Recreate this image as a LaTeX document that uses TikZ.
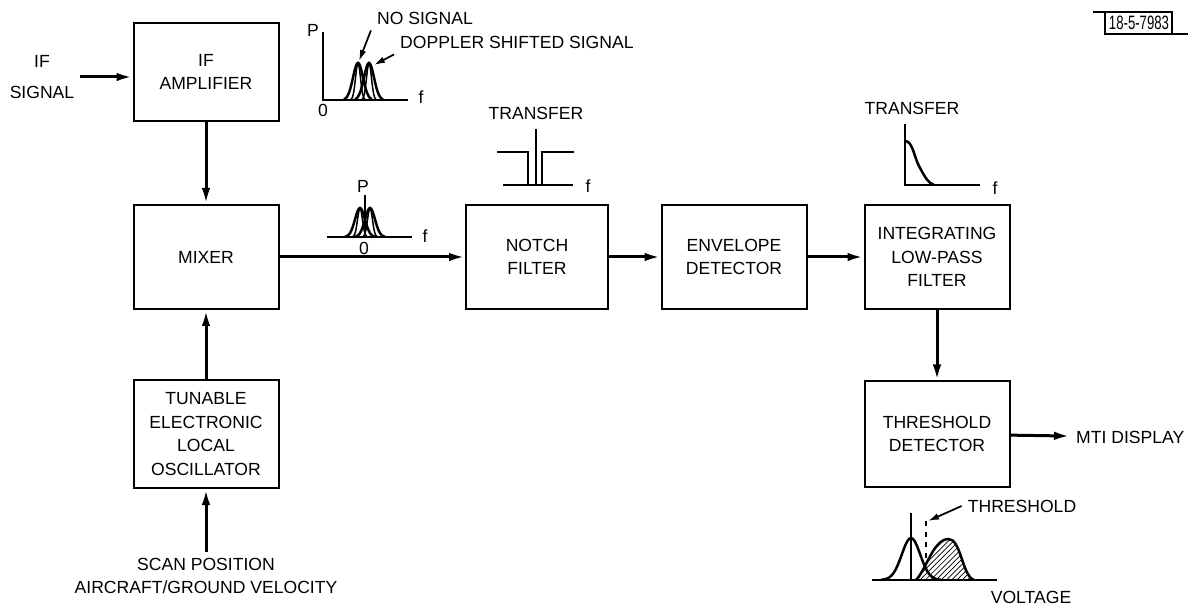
\documentclass[tikz,border=0pt]{standalone}
\usepackage{fontspec}
\setmainfont{Liberation Sans}
\usetikzlibrary{arrows.meta,patterns}

\begin{document}
\begin{tikzpicture}[x=0.2mm, y=-0.2mm,
    font=\fontsize{10}{13.5}\selectfont,
    block/.style={draw, line width=0.4mm, minimum width=29mm, minimum height=20.8mm, align=center},
    flow/.style={line width=0.6mm, -{Latex[length=3.2mm,width=1.7mm]}},
    ptr/.style={line width=0.35mm, -{Latex[length=2.2mm,width=1.3mm]}},
    curve/.style={line width=0.5mm},
    axis/.style={line width=0.4mm},
    thin line/.style={line width=0.3mm}]

    \useasboundingbox (0,0) rectangle (1197,609);

    % blocks
    \node[block, minimum height=19.6mm] (ifamp) at (206,72) {IF\\AMPLIFIER};
    \node[block]                        (mixer) at (206,257) {MIXER};
    \node[block, minimum height=21.6mm] (osc)   at (206,434) {TUNABLE\\ELECTRONIC\\LOCAL\\OSCILLATOR};
    \node[block, minimum width=28.4mm]  (notch) at (537,257) {NOTCH\\FILTER};
    \node[block]                        (env)   at (734,257) {ENVELOPE\\DETECTOR};
    \node[block]                        (integ) at (937,257) {INTEGRATING\\LOW-PASS\\FILTER};
    \node[block, minimum height=21mm]   (thresh) at (937,434) {THRESHOLD\\DETECTOR};

    % inputs and outputs
    \node[align=center] (ifsig) at (42,77) {IF\\[4pt]SIGNAL};
    \node[align=center] (scan)  at (206,576) {SCAN POSITION\\AIRCRAFT/GROUND VELOCITY};
    \node[anchor=west]  (mti)   at (1070,437) {MTI DISPLAY};

    \draw[flow] (ifsig.east) -- (ifsig.east -| ifamp.west);
    \draw[flow] (ifamp) -- (mixer);
    \draw[flow] (osc) -- (mixer);
    \draw[flow] (scan) -- (osc);
    \draw[flow] (mixer) -- (notch);
    \draw[flow] (notch) -- (env);
    \draw[flow] (env) -- (integ);
    \draw[flow] (integ) -- (thresh);
    \draw[flow] (thresh) -- (mti);

    % spectrum at the input
    \draw[axis] (323,32) -- (323,100) -- (408,100);
    \node (pin) at (313,30) {P};
    \node (oin) at (323,110) {0};
    \node (fin) at (421,97) {f};
    \foreach \c in {358,369} {
        \draw[curve] plot[domain=\c-14:\c+14, samples=31] (\x,{100-37*exp(-(\x-\c)*(\x-\c)/50)});
        \draw[thin line] plot[domain=\c-7:\c+7, samples=21] (\x,{100-37*exp(-(\x-\c)*(\x-\c)/12)});
    }
    \node (nosig) at (425,18) {NO SIGNAL};
    \node[anchor=west] (dopp) at (394,42) {DOPPLER SHIFTED SIGNAL};
    \coordinate (nopk) at (359,61);
    \coordinate (dppk) at (374,65);
    \draw[ptr] (nosig.south west) -- (nopk);
    \draw[ptr] (dopp.south west) -- (dppk);

    % spectrum after the mixer
    \draw[axis] (327,237) -- (412,237);
    \draw[thin line] (365,195) -- (365,237);
    \node (pmix) at (363,186) {P};
    \node (omix) at (364,248) {0};
    \node (fmix) at (425,236) {f};
    \foreach \c in {360,370} {
        \draw[curve] plot[domain=\c-15:\c+15, samples=31] (\x,{237-29*exp(-(\x-\c)*(\x-\c)/50)});
        \draw[thin line] plot[domain=\c-7:\c+7, samples=21] (\x,{237-29*exp(-(\x-\c)*(\x-\c)/12)});
    }

    % notch transfer
    \node (tnotch) at (536,113) {TRANSFER};
    \draw[axis] (503,185) -- (573,185);
    \draw[curve] (497,152) -- (528,152) -- (528,185);
    \draw[curve] (542,185) -- (542,152) -- (574,152);
    \draw[thin line] (536,129) -- (536,185);
    \node (fnotch) at (588,186) {f};

    % low-pass transfer
    \node (tlow) at (912,108) {TRANSFER};
    \draw[axis] (905,124) -- (905,185) -- (980,185);
    \draw[curve] (905,141) .. controls (913,141) and (914,158) .. (920,168) .. controls (925,177) and (928,183) .. (934,185);
    \node (flow) at (995,188) {f};

    % voltage distribution
    \draw[axis] (872,580) -- (997,580);
    \draw[thin line] (911,513) -- (911,580);
    \path[pattern=north east lines] (916,580) .. controls (926,570) and (933,540) .. (948,539) .. controls (961,538) and (962,576) .. (974,580) -- cycle;
    \draw[curve] (916,580) .. controls (926,570) and (933,540) .. (948,539) .. controls (961,538) and (962,576) .. (974,580);
    \draw[curve] plot[domain=881:941, samples=41] (\x,{580-42*exp(-(\x-911)*(\x-911)/170)});
    \draw[thin line, dashed] (926,521) -- (926,560);
    \node (thrlbl) at (1022,506) {THRESHOLD};
    \coordinate (thrtop) at (928,521);
    \draw[ptr] (thrlbl.west) -- (thrtop);
    \node (volt) at (1031,597) {VOLTAGE};

    % drawing number
    \node[inner sep=0pt] (tag) at (1139,23) {\scalebox{0.75}[1.1]{18-5-7983}};
    \draw[thin line] (1093,12) -- (1172,12) -- (1172,34);
    \draw[thin line] (1105,12) -- (1105,34) -- (1188,34);

\end{tikzpicture}
\end{document}
